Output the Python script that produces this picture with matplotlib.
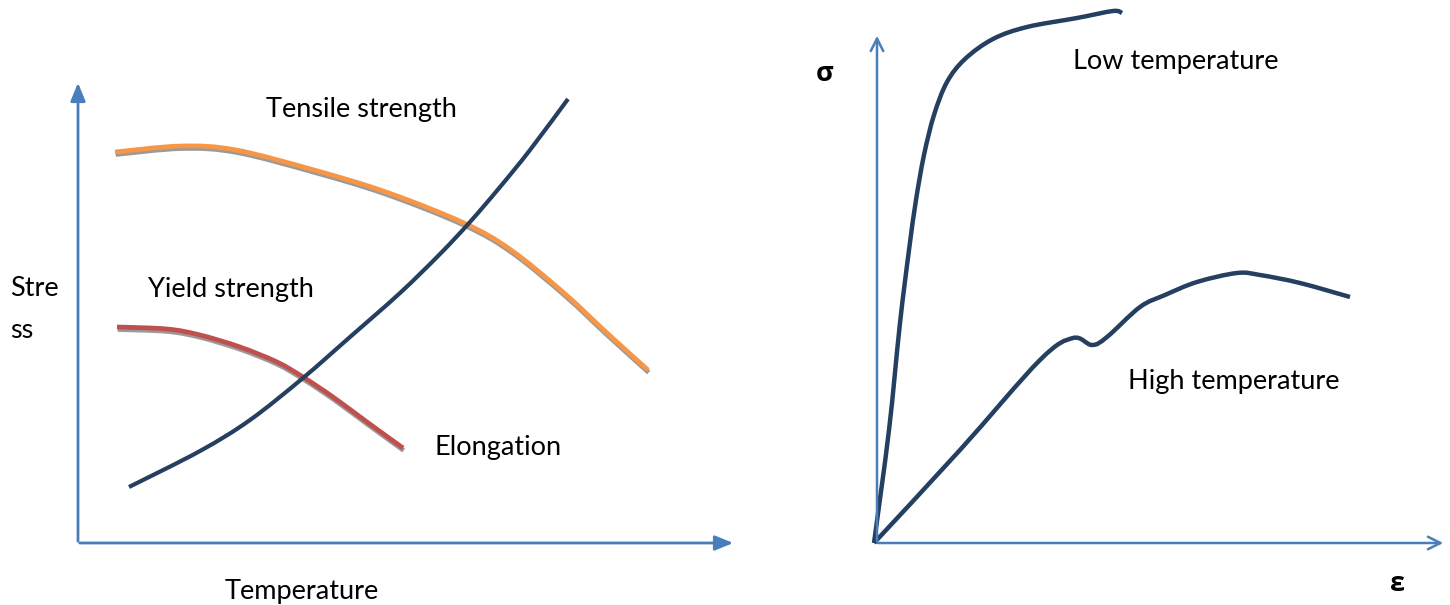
import numpy as np
import matplotlib
matplotlib.use('Agg')
from matplotlib import pyplot as plt
from matplotlib import patheffects as pe
from matplotlib.path import Path
from matplotlib.patches import PathPatch

plt.rcParams['font.family'] = ['Lato', 'DejaVu Sans']

# left sketch: strength / elongation vs temperature (canvas pixel units, y down)
tensile_x = [115, 182, 236, 314, 386, 464, 511, 564, 607, 648]
tensile_y = [152, 146, 150, 170, 192, 223, 250, 293, 333, 370]

yield_x = [117, 167, 200, 240, 277, 303, 333, 367, 403]
yield_y = [327, 329, 335, 347, 362, 377, 397, 422, 448]

elong_x = [129, 200, 250, 303, 350, 400, 440, 470, 500, 530, 568]
elong_y = [487, 451, 420, 378, 337, 293, 254, 222, 187, 150, 99]

# right sketch: stress-strain curves
low_x = [874, 889, 900, 909, 916, 924, 934, 947, 965, 993, 1027, 1077, 1113, 1122]
low_y = [543, 430, 323, 250, 200, 155, 115, 82, 59, 39, 27, 18, 11, 13]

high_x = [874, 960, 1040, 1073, 1092, 1107, 1140, 1165, 1197, 1237, 1260, 1300, 1350]
high_y = [543, 450, 360, 338, 345, 337, 307, 295, 282, 273, 275, 283, 297]

AXIS = '#4a7ebb'
NAVY = '#243f60'
ORANGE = '#f79646'
RED = '#c0504d'


def smooth_path(xs, ys, tension=0.5):
    # cubic bezier through the points, tangents taken Catmull-Rom style
    p = np.column_stack([xs, ys]).astype(float)
    n = len(p)
    verts = [p[0]]
    codes = [Path.MOVETO]
    for i in range(n - 1):
        p0 = p[i - 1] if i > 0 else p[i]
        p3 = p[i + 2] if i + 2 < n else p[i + 1]
        c1 = p[i] + (p[i + 1] - p0) * tension / 3
        c2 = p[i + 1] - (p3 - p[i]) * tension / 3
        verts += [c1, c2, p[i + 1]]
        codes += [Path.CURVE4] * 3
    return Path(verts, codes)


def curve(ax, xs, ys, color, lw, effects=None):
    patch = PathPatch(smooth_path(xs, ys), fill=False, edgecolor=color, lw=lw,
                      capstyle='butt', joinstyle='round')
    if effects:
        patch.set_path_effects(effects)
    ax.add_patch(patch)


fig = plt.figure(figsize=(14.5, 6.05), dpi=100)
ax = fig.add_axes([0, 0, 1, 1])
ax.set_xlim(0, 1450)
ax.set_ylim(605, 0)
ax.axis('off')

shadow = [pe.SimpleLineShadow(offset=(0.5, -1.8), shadow_color='#9a9a9a', alpha=1.0), pe.Normal()]

# axes of left sketch, filled heads
ax.annotate('', xy=(78, 80), xytext=(78, 544),
            arrowprops=dict(arrowstyle='-|>,head_length=1.1,head_width=0.45', color=AXIS, lw=2))
ax.annotate('', xy=(736, 543), xytext=(77, 543),
            arrowprops=dict(arrowstyle='-|>,head_length=1.1,head_width=0.45', color=AXIS, lw=2))

# axes of right sketch, open heads
ax.annotate('', xy=(877, 33), xytext=(877, 544),
            arrowprops=dict(arrowstyle='->,head_length=0.9,head_width=0.45', color=AXIS, lw=1.8))
ax.annotate('', xy=(1446, 543), xytext=(875, 543),
            arrowprops=dict(arrowstyle='->,head_length=0.9,head_width=0.45', color=AXIS, lw=1.8))

curve(ax, tensile_x, tensile_y, ORANGE, 3.4, shadow)
curve(ax, yield_x, yield_y, RED, 3.4, shadow)
curve(ax, elong_x, elong_y, NAVY, 3.0)
curve(ax, low_x, low_y, NAVY, 3.2)
curve(ax, high_x, high_y, NAVY, 3.2)

fs = 19.5
ax.text(266, 110, 'Tensile strength', fontsize=fs, ha='left', va='center')
ax.text(148, 289, 'Yield strength', fontsize=fs, ha='left', va='center')
ax.text(435, 448, 'Elongation', fontsize=fs, ha='left', va='center')
ax.text(10, 289, 'Stre', fontsize=fs, ha='left', va='center')
ax.text(10, 331, 'ss', fontsize=fs, ha='left', va='center')
ax.text(225, 592, 'Temperature', fontsize=fs, ha='left', va='center')

ax.text(1073, 61, 'Low temperature', fontsize=fs, ha='left', va='center')
ax.text(1128, 382, 'High temperature', fontsize=fs, ha='left', va='center')
ax.text(825, 74, 'σ', fontsize=fs, fontweight='bold', ha='center', va='center',
        family=['Open Sans', 'DejaVu Sans'])
ax.text(1398, 584, 'ε', fontsize=fs, fontweight='bold', ha='center', va='center',
        family=['Open Sans', 'DejaVu Sans'])

fig.savefig('out.png', dpi=100)
